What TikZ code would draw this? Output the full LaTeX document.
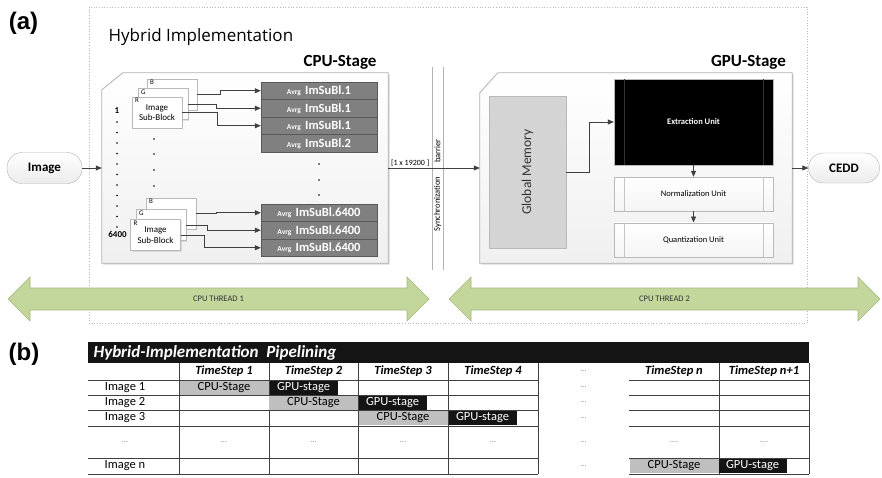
\documentclass[tikz,border=0pt]{standalone}
\usepackage{graphicx}
\usepackage{fontspec}
\setmainfont{Carlito}
\newfontfamily\panelfont{Liberation Sans}
\newfontfamily\headfont{Open Sans}
\usetikzlibrary{arrows.meta,shadows}

\definecolor{avrggray}{HTML}{808080}
\definecolor{memgray}{HTML}{D4D4D4}
\definecolor{threadgreen}{HTML}{C3D69B}
\definecolor{threadedge}{HTML}{A5B77C}
\definecolor{cellgray}{HTML}{BFBFBF}
\definecolor{linkgray}{HTML}{404040}

\newcommand{\fsz}[1]{\fontsize{#1}{#1}\selectfont}
\newcommand{\avrglabel}[1]{{\fsz{7.5}Avrg}\,\,ImSuBl.#1}

\tikzset{
  conn/.style={draw=linkgray, line width=0.8pt, -{Triangle[length=6pt,width=5pt]}},
  panel/.style={font=\panelfont\bfseries\fsz{24}},
  stagetitle/.style={font=\bfseries\fsz{17}},
  stageblock/.style={draw=gray!60, line width=0.8pt, top color=white, bottom color=gray!12,
    drop shadow={shadow xshift=1.5pt, shadow yshift=-1.5pt, opacity=0.3}},
  term/.style={draw=gray!60, rounded corners=15pt, top color=white, bottom color=gray!15,
    minimum height=31pt, font=\bfseries\fsz{13}},
  subblock/.style={draw=gray!55, fill=white, minimum width=50pt, minimum height=31pt,
    inner sep=0pt, drop shadow={shadow xshift=1pt, shadow yshift=-1pt, opacity=0.2}},
  rgb/.style={font=\fsz{7}, inner sep=0pt, anchor=north west},
  idx/.style={font=\bfseries\fsz{9}, inner sep=0pt},
  avrg/.style={draw=gray!70!black, fill=avrggray, text=white, minimum width=116pt,
    minimum height=17.5pt, inner sep=0pt, font=\bfseries\fsz{12.5}},
  memory/.style={draw=gray!55, fill=memgray, text=black!80, minimum width=77pt,
    minimum height=152pt, font=\fsz{13.5}},
  unit/.style={draw=gray!55, minimum width=159pt, minimum height=34pt, font=\fsz{8.5}},
  small/.style={font=\fsz{8.5}, inner sep=1pt},
  thread/.style={fill=threadgreen, draw=threadedge, line width=0.6pt},
  tabline/.style={draw=black!75, line width=0.7pt},
  stephead/.style={font=\bfseries\itshape\fsz{12.5}},
  rowlabel/.style={font=\fsz{12.5}},
  etc/.style={font=\fsz{8}, text=gray},
  cpucell/.style={fill=cellgray, minimum width=89pt, minimum height=14pt, inner sep=0pt,
    font=\fsz{12.5}},
  gpucell/.style={fill=black!92, text=white, minimum width=68pt, minimum height=14pt,
    inner sep=0pt, font=\fsz{12.5}},
}

\begin{document}
\begin{tikzpicture}[x=1pt, y=-1pt]
  \path[fill=white, use as bounding box] (0,0) rectangle (882,477);

  % (a) hybrid implementation
  \node[panel] (tagA) at (23.5,23) {(a)};
  \draw[gray!55, dotted, line width=0.7pt] (89,7) rectangle (807,323);
  \node[anchor=west, font=\headfont\fsz{17}] (hybrid) at (105,37) {Hybrid Implementation};

  % cpu stage
  \node[minimum width=286pt, minimum height=190pt] (cpu) at (245,168) {};
  \path[stageblock] ([yshift=-17pt]cpu.north west) -- ([xshift=21pt]cpu.north west)
    -- (cpu.north east) -- (cpu.south east) -- (cpu.south west) -- cycle;
  \node[stagetitle] (cputitle) at (340,62) {CPU-Stage};

  \foreach \g/\bx/\by/\gx/\gy/\rx/\ry in {1/172/94.5/163/104/157/112.5, 2/171/213.5/161/225/155.5/235}{
    \node[subblock] (b\g) at (\bx,\by) {};
    \node[subblock] (g\g) at (\gx,\gy) {};
    \node[subblock, align=center, font=\fontsize{9}{10.5}\selectfont] (r\g) at (\rx,\ry) {Image\\Sub-Block};
    \node[rgb] (lb\g) at ([shift={(3pt,-1.5pt)}]b\g.north west) {B};
    \node[rgb] (lg\g) at ([shift={(3pt,-1.5pt)}]g\g.north west) {G};
    \node[rgb] (lr\g) at ([shift={(3pt,-1.5pt)}]r\g.north west) {R};
  }

  \node[idx] (first) at (117,111) {1};
  \foreach \i in {0,...,10}
    \fill (117,122+10.5*\i) circle (0.8pt);
  \node[idx] (last) at (117.5,234) {6400};
  \foreach \y in {139,154,170,186} \fill (154,\y) circle (0.9pt);
  \foreach \y in {164,180,195} \fill (319,\y) circle (0.9pt);

  \foreach \n/\y/\k in {1/90.75/1, 2/108.25/1, 3/125.75/1, 4/143.25/2,
                        5/212.75/6400, 6/230.25/6400, 7/247.75/6400}
    \node[avrg] (av\n) at (319,\y) {\avrglabel{\k}};

  \draw[conn] (b1.east) -- ++(23,0) |- (av1.west);
  \draw[conn] (g1.east) -- ++(28,0) |- (av2.west);
  \draw[conn] (r1.east) -- ++(35,0) |- (av3.west);
  \draw[conn] (b2.east) -- ++(20,0) |- (av5.west);
  \draw[conn] (g2.east) -- ++(21,0) |- (av6.west);
  \draw[conn] (r2.east) -- ++(24,0) |- (av7.west);

  % barrier between the stages
  \draw[gray!60, line width=0.8pt] (432,67) -- (432,270) (443,67) -- (443,270);
  \node[small, rotate=90] (barrier) at (437.5,151) {barrier};
  \node[small, rotate=90] (sync) at (437.5,204) {Synchronization};

  % gpu stage
  \node[minimum width=312pt, minimum height=190pt] (gpu) at (636,168) {};
  \path[stageblock] ([yshift=-20pt]gpu.north west) -- ([xshift=18pt]gpu.north west)
    -- (gpu.north east) -- (gpu.south east) -- (gpu.south west) -- cycle;
  \node[stagetitle] (gputitle) at (748.5,62) {GPU-Stage};

  \node[memory] (mem) at (527.5,172) {\rotatebox{90}{Global Memory}};
  \node[unit, fill=black, text=white, font=\bfseries\fsz{8.5}, minimum height=86pt] (ext) at (693.5,122) {Extraction Unit};
  \node[unit, top color=white, bottom color=gray!8] (norm) at (693.5,194) {Normalization Unit};
  \node[unit, top color=white, bottom color=gray!8] (quant) at (693.5,239.7) {Quantization Unit};
  \foreach \u/\c in {ext/black!80, norm/gray!45, quant/gray!45}
    \draw[\c] ([xshift=10pt]\u.north west) -- ([xshift=10pt]\u.south west)
      ([xshift=-10pt]\u.north east) -- ([xshift=-10pt]\u.south east);

  \draw[conn] (mem.east) -- ++(23,0) |- (ext.west);
  \draw[conn] (ext.south) -- (norm.north);
  \draw[conn] (norm.south) -- (quant.north);

  % input and output
  \node[term, minimum width=75pt] (img) at (44.5,168) {Image};
  \node[term, minimum width=71pt, minimum height=30pt] (cedd) at (844,168) {CEDD};
  \draw[conn] (img) -- (cpu);
  \draw[conn] (cpu) -- node[pos=0.24, above, font=\fsz{8}, inner sep=1.5pt] (size) {[1 x 19200 ]} (gpu);
  \draw[conn] (gpu) -- (cedd);

  % threads
  \foreach \xa/\xb/\tn in {8/429/1, 449/880/2}{
    \path[thread] (\xa,299) -- (\xa+22,277) -- (\xa+22,288) -- (\xb-22,288) -- (\xb-22,277)
      -- (\xb,299) -- (\xb-22,321) -- (\xb-22,310) -- (\xa+22,310) -- (\xa+22,321) -- cycle;
    \node[font=\fsz{8.5}, text=black!80] (thread\tn) at ({(\xa+\xb)/2},299) {CPU THREAD \tn};
  }

  % (b) pipelining table
  \node[panel] (tagB) at (24,354) {(b)};
  \fill[black!92] (88,342) rectangle (809,363);
  \node[anchor=west, text=white, font=\bfseries\itshape\fsz{17}] (pipetitle) at (90,352.5)
    {Hybrid-Implementation\ \ Pipelining};
  \foreach \y in {380,395,410,426,458,474}
    \draw[tabline] (88,\y) -- (538,\y) (629,\y) -- (809,\y);
  \foreach \x in {179,269,358,448,538,719,809}
    \draw[tabline] (\x,363) -- (\x,474);

  \foreach \i/\x/\t in {1/224/1, 2/313.5/2, 3/403/3, 4/493/4, 5/674/n, 6/764/n+1}
    \node[stephead] (ts\i) at (\x,371.5) {TimeStep \t};
  \foreach \i/\y/\t in {1/387.5/Image 1, 2/402.5/Image 2, 3/418/Image 3, 5/466/Image n}
    \node[rowlabel] (row\i) at (125,\y) {\t};

  \foreach \n/\x/\y in {1/224/387.5, 2/313.5/402.5, 3/403/418, n/674/466}
    \node[cpucell] (cs\n) at (\x,\y) {CPU-Stage};
  \foreach \n/\x/\y in {1/303.5/387.5, 2/392.5/402.5, 3/482.5/418, n/752.5/466}
    \node[gpucell] (gs\n) at (\x,\y) {GPU-stage};

  \foreach \x [count=\i] in {125,224,313.5,403,493,583.5}
    \node[etc] (skip\i) at (\x,442) {...};
  \foreach \x [count=\i] in {674,764}
    \node[etc] (more\i) at (\x,442) {....};
  \foreach \y [count=\i] in {371.5,387.5,402.5,418,466}
    \node[etc] (gap\i) at (583.5,\y) {...};
\end{tikzpicture}
\end{document}
